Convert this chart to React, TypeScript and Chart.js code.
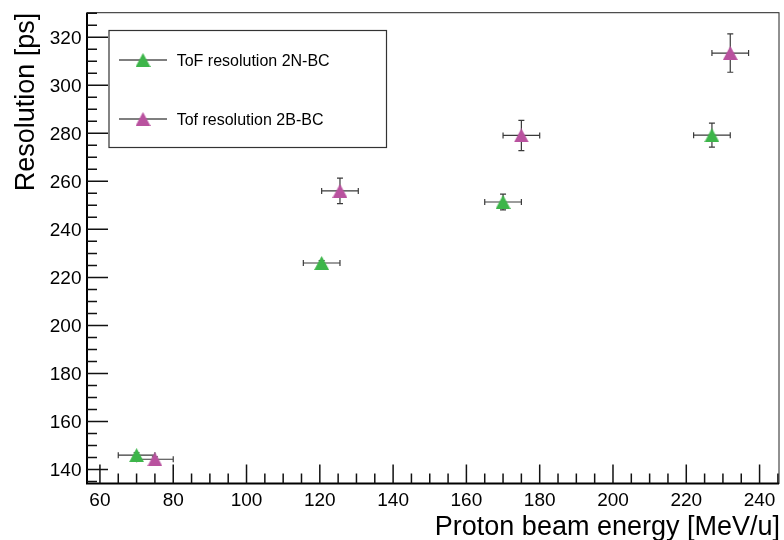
import React, { useEffect, useRef } from "react";
import { Chart, registerables } from "chart.js";

Chart.register(...registerables);

// ---- data ----
const energy2N = [70, 120.5, 170, 227];
const res2N = [146, 226, 251.4, 279.2];
const res2NErr = [1, 1, 3.3, 5];
const energy2NErr = [5, 5, 5, 5];

const energy2B = [75, 125.5, 175, 232];
const res2B = [144.3, 256, 279.1, 313.4];
const res2BErr = [1, 5.3, 6.3, 8];
const energy2BErr = [5, 5, 5, 5];

const xTickValues = [60, 80, 100, 120, 140, 160, 180, 200, 220, 240];
const yTickValues = [140, 160, 180, 200, 220, 240, 260, 280, 300, 320];

const label2N = "ToF resolution 2N-BC";
const label2B = "Tof resolution 2B-BC";
const xTitle = "Proton beam energy [MeV/u]";
const yTitle = "Resolution [ps]";

const GREEN = "#3db54a";
const MAGENTA = "#b9529f";
const FONT = '"Liberation Sans", Arial, Helvetica, sans-serif';

function makeTriangle(color: string): HTMLCanvasElement {
  const c = document.createElement("canvas");
  const w = 15;
  const h = 14;
  c.width = w;
  c.height = h;
  const ctx = c.getContext("2d")!;
  ctx.fillStyle = color;
  ctx.beginPath();
  ctx.moveTo(w / 2, 0);
  ctx.lineTo(w, h);
  ctx.lineTo(0, h);
  ctx.closePath();
  ctx.fill();
  return c;
}

const rootPlugin = {
  id: "rootStyle",
  beforeDatasetsDraw(chart: any) {
    const ctx = chart.ctx as CanvasRenderingContext2D;
    const xs = chart.scales.x;
    const ys = chart.scales.y;
    const area = chart.chartArea;
    ctx.save();
    // frame
    ctx.strokeStyle = "#222";
    ctx.lineWidth = 1;
    ctx.strokeRect(area.left, area.top, area.right - area.left, area.bottom - area.top);
    // axes
    ctx.strokeStyle = "#000";
    ctx.lineWidth = 2;
    ctx.beginPath();
    ctx.moveTo(area.left, area.top);
    ctx.lineTo(area.left, area.bottom);
    ctx.lineTo(area.right, area.bottom);
    ctx.stroke();

    // ticks
    ctx.lineWidth = 1.5;
    ctx.strokeStyle = "#111";
    ctx.beginPath();
    for (let v = Math.ceil(xs.min / 5) * 5; v <= xs.max; v += 5) {
      const px = xs.getPixelForValue(v);
      const len = v % 20 === 0 ? 19 : 10;
      ctx.moveTo(px, area.bottom);
      ctx.lineTo(px, area.bottom - len);
    }
    for (let v = Math.ceil(ys.min / 5) * 5; v <= ys.max; v += 5) {
      const py = ys.getPixelForValue(v);
      const len = v % 20 === 0 ? 21 : 10;
      ctx.moveTo(area.left, py);
      ctx.lineTo(area.left + len, py);
    }
    ctx.stroke();

    // tick labels
    ctx.fillStyle = "#000";
    ctx.font = `19px ${FONT}`;
    ctx.textBaseline = "alphabetic";
    ctx.textAlign = "center";
    xTickValues.forEach((v) => {
      ctx.fillText(String(v), xs.getPixelForValue(v), 506);
    });
    ctx.textAlign = "right";
    yTickValues.forEach((v) => {
      ctx.fillText(String(v), area.left - 5.5, ys.getPixelForValue(v) + 6.8);
    });

    // axis titles
    ctx.font = `27px ${FONT}`;
    ctx.textAlign = "right";
    ctx.fillText(xTitle, area.right + 1, 534.5);
    ctx.save();
    ctx.translate(33.5, area.top);
    ctx.rotate(-Math.PI / 2);
    ctx.textAlign = "right";
    ctx.fillText(yTitle, 0, 0);
    ctx.restore();

    // error bars
    ctx.strokeStyle = "#3a3a3a";
    ctx.lineWidth = 1.2;
    const drawErr = (xv: number[], yv: number[], xe: number[], ye: number[]) => {
      for (let i = 0; i < xv.length; i++) {
        const cx = xs.getPixelForValue(xv[i]);
        const cy = ys.getPixelForValue(yv[i]);
        const x0 = xs.getPixelForValue(xv[i] - xe[i]);
        const x1 = xs.getPixelForValue(xv[i] + xe[i]);
        const y0 = ys.getPixelForValue(yv[i] + ye[i]);
        const y1 = ys.getPixelForValue(yv[i] - ye[i]);
        ctx.beginPath();
        ctx.moveTo(x0, cy);
        ctx.lineTo(x1, cy);
        ctx.moveTo(x0, cy - 3);
        ctx.lineTo(x0, cy + 3);
        ctx.moveTo(x1, cy - 3);
        ctx.lineTo(x1, cy + 3);
        ctx.moveTo(cx, y0);
        ctx.lineTo(cx, y1);
        ctx.moveTo(cx - 3, y0);
        ctx.lineTo(cx + 3, y0);
        ctx.moveTo(cx - 3, y1);
        ctx.lineTo(cx + 3, y1);
        ctx.stroke();
      }
    };
    drawErr(energy2N, res2N, energy2NErr, res2NErr);
    drawErr(energy2B, res2B, energy2BErr, res2BErr);
    ctx.restore();
  },
  afterDatasetsDraw(chart: any) {
    const ctx = chart.ctx as CanvasRenderingContext2D;
    ctx.save();
    // legend box
    const lx = 109, ly = 30.5, lw = 277.5, lh = 117;
    ctx.fillStyle = "#fff";
    ctx.fillRect(lx, ly, lw, lh);
    ctx.strokeStyle = "#333";
    ctx.lineWidth = 1.2;
    ctx.strokeRect(lx, ly, lw, lh);
    const entries = [
      { label: label2N, y: 60, img: chart.data.datasets[0].pointStyle },
      { label: label2B, y: 119, img: chart.data.datasets[1].pointStyle },
    ];
    entries.forEach((e) => {
      ctx.strokeStyle = "#555";
      ctx.lineWidth = 1.5;
      ctx.beginPath();
      ctx.moveTo(119, e.y);
      ctx.lineTo(167, e.y);
      ctx.stroke();
      const im = e.img as HTMLCanvasElement;
      ctx.drawImage(im, 143 - im.width / 2, e.y - im.height / 2);
      ctx.fillStyle = "#000";
      ctx.font = `16px ${FONT}`;
      ctx.textAlign = "left";
      ctx.textBaseline = "alphabetic";
      ctx.fillText(e.label, 176.7, e.y + 5.5);
    });
    ctx.restore();
  },
};

export default function App() {
  const ref = useRef<HTMLCanvasElement | null>(null);
  useEffect(() => {
    document.body.style.margin = "0";
    const canvas = ref.current!;
    const tri2N = makeTriangle(GREEN);
    const tri2B = makeTriangle(MAGENTA);
    const chart = new Chart(canvas, {
      type: "scatter",
      data: {
        datasets: [
          {
            label: label2N,
            data: energy2N.map((x, i) => ({ x, y: res2N[i] })),
            pointStyle: tri2N as any,
            backgroundColor: GREEN,
            borderColor: GREEN,
          },
          {
            label: label2B,
            data: energy2B.map((x, i) => ({ x, y: res2B[i] })),
            pointStyle: tri2B as any,
            backgroundColor: MAGENTA,
            borderColor: MAGENTA,
          },
        ],
      },
      options: {
        animation: false,
        responsive: false,
        devicePixelRatio: 1,
        layout: { padding: { left: 87, top: 12.7, right: 2.5, bottom: 56.5 } },
        plugins: { legend: { display: false }, tooltip: { enabled: false } },
        scales: {
          x: { type: "linear", min: 56.47, max: 245.3, display: false },
          y: { type: "linear", min: 134.2, max: 330.2, display: false },
        },
      },
      plugins: [rootPlugin],
    });
    return () => chart.destroy();
  }, []);
  return <canvas ref={ref} width={784} height={540} style={{ display: "block", width: 784, height: 540 }} />;
}
